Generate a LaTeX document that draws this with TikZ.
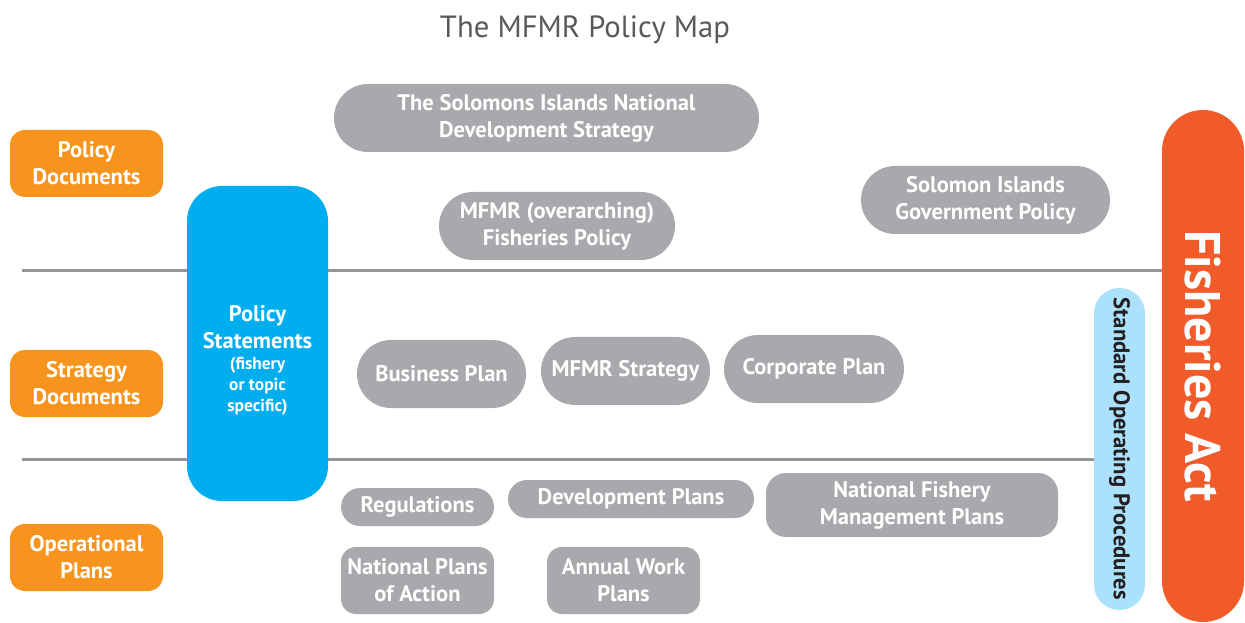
\documentclass[tikz,border=0pt]{standalone}
\usepackage{fontspec}
\setmainfont{PT Sans}
\usetikzlibrary{positioning}

\definecolor{lvlorange}{HTML}{F7941D}
\definecolor{polblue}{HTML}{00AEEF}
\definecolor{pillgrey}{HTML}{A7A9AC}
\definecolor{soplight}{HTML}{ABE1FA}
\definecolor{actred}{HTML}{F15A29}
\definecolor{linegrey}{HTML}{939598}
\definecolor{titlegrey}{HTML}{58595B}
\definecolor{soptext}{HTML}{231F20}

\tikzset{every picture/.style={line width=0.75pt}}
\tikzset{
  boxtext/.style={text=white, align=center, inner sep=0pt,
    font=\fontsize{16.9}{20.25}\bfseries\selectfont},
  lvlbox/.style={boxtext, fill=lvlorange, rounded corners=11.25pt,
    minimum width=114.75pt, minimum height=50.25pt},
  pill/.style={boxtext, fill=pillgrey, rounded corners=25.5pt,
    minimum height=51pt},
  slimpill/.style={boxtext, fill=pillgrey, rounded corners=14.25pt,
    minimum height=28.5pt},
  squarepill/.style={boxtext, fill=pillgrey, rounded corners=11.25pt,
    minimum height=50.25pt},
  divider/.style={draw=linegrey, line width=2.25pt},
}
\newcommand{\smalltxt}{\fontsize{13}{16}\selectfont}

\begin{document}
\begin{tikzpicture}[x=0.75pt,y=0.75pt,yscale=-1,xscale=1]
\useasboundingbox (0,0) rectangle (1245,623);

% Title
\node[text=titlegrey, inner sep=0pt, font=\fontsize{23}{28}\selectfont] (maptitle) at (585,30) {The MFMR Policy Map};

% Act and procedures on the right
\node[fill=actred, text=white, rotate=-90, inner sep=0pt, rounded corners=30.75pt,
  minimum width=384pt, minimum height=61.5pt,
  font=\fontsize{37.5}{40}\bfseries\selectfont] (fact) at (1203,366) {Fisheries Act};
\node[fill=soplight, text=soptext, rotate=-90, inner sep=0pt, rounded corners=19pt,
  minimum width=241.5pt, minimum height=38.25pt,
  font=\fontsize{17}{18}\bfseries\selectfont] (sop) at (1119.5,449) {Standard Operating Procedures};

% Divider lines
\coordinate (dtop) at (22,271);
\coordinate (dbot) at (22,459);
\draw[divider] (dtop) -- (dtop -| fact.south);
\draw[divider] (dbot) -- (dbot -| sop.south);

% Level labels
\node[lvlbox] (poldoc) at (86.5,163.5) {Policy\\Documents};
\node[lvlbox] (stratdoc) at (86.5,383.5) {Strategy\\Documents};
\node[lvlbox] (opplan) at (86.5,557.5) {Operational\\Plans};

% Policy statements
\node[boxtext, fill=polblue, rounded corners=26.25pt,
  minimum width=105.75pt, minimum height=236.25pt] (polstat) at (257.5,343.5)
  {\mbox{}\\[17pt]Policy\\Statements\\[-4pt]{\smalltxt(fishery}\\[-4.5pt]
   {\smalltxt or topic}\\[-4.5pt]{\smalltxt specific)}};

% Policy documents
\node[pill, minimum width=318.75pt] (nds) at (546.5,118) {The Solomons Islands National\\Development Strategy};
\node[pill, minimum width=177pt] (fishpol) at (557,226) {MFMR (overarching)\\Fisheries Policy};
\node[pill, minimum width=186.75pt] (govpol) at (985.5,200) {Solomon Islands\\Government Policy};

% Strategy documents
\node[pill, minimum width=126.75pt] (bizplan) at (441.5,374) {Business Plan};
\node[pill, minimum width=126.75pt] (mstrat) at (625.5,371) {MFMR Strategy};
\node[pill, minimum width=135pt] (corpplan) at (814,369) {Corporate Plan};

% Operational plans
\node[slimpill, minimum width=114.75pt] (regs) at (417.5,507) {Regulations};
\node[slimpill, minimum width=184.5pt] (devplan) at (631,499) {Development Plans};
\node[squarepill, minimum width=219pt, minimum height=48pt, rounded corners=15pt] (nfmp) at (912,505) {National Fishery\\Management Plans};
\node[squarepill, minimum width=114.75pt] (npoa) at (417.5,580.5) {National Plans\\of Action};
\node[squarepill, minimum width=114.75pt] (awp) at (623.5,580.5) {Annual Work\\Plans};

\end{tikzpicture}
\end{document}
